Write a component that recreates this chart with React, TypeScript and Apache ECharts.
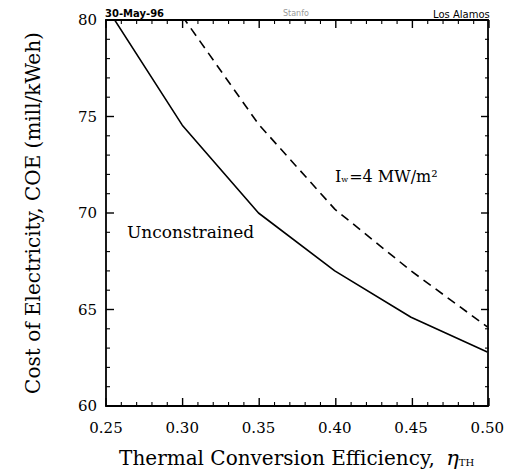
import React, { useEffect, useRef } from "react";
import * as echarts from "echarts";

const efficiency = [0.25, 0.3, 0.35, 0.4, 0.45, 0.5];
const unconstrained = [80.7, 74.55, 70.0, 67.0, 64.6, 62.8];
const wallLoad = [null, 80.2, 74.6, 70.2, 67.0, 64.1];
const xTicks = ["0.25", "0.30", "0.35", "0.40", "0.45", "0.50"];
const yTicks = [60, 65, 70, 75, 80];
const xMajorTicks = [0.25, 0.3, 0.35, 0.4, 0.45, 0.5];
const xMinorTicks = [
  0.26, 0.27, 0.28, 0.29, 0.31, 0.32, 0.33, 0.34, 0.36, 0.37, 0.38, 0.39,
  0.41, 0.42, 0.43, 0.44, 0.46, 0.47, 0.48, 0.49,
];
const yMajorTicks = [60, 65, 70, 75, 80];
const yMinorTicks = [61, 62, 63, 64, 66, 67, 68, 69, 71, 72, 73, 74, 76, 77, 78, 79];

const X_MIN = 0.25;
const X_MAX = 0.5;
const Y_MIN = 60;
const Y_MAX = 80;

const GRID_LEFT = 106;
const GRID_TOP = 20;
const GRID_W = 383;
const GRID_H = 386;

const SERIF = "'DejaVu Serif', 'Liberation Serif', serif";
const MAJOR_LEN = 8;
const MINOR_LEN = 4;

const frameLine = { show: true, onZero: false, lineStyle: { color: "#000", width: 1.8 } };

const xPix = (v: number) => GRID_LEFT + ((v - X_MIN) / (X_MAX - X_MIN)) * GRID_W;
const yPix = (v: number) => GRID_TOP + GRID_H - ((v - Y_MIN) / (Y_MAX - Y_MIN)) * GRID_H;

function tickRect(x: number, y: number, width: number, height: number) {
  return {
    type: "rect",
    z: 100,
    silent: true,
    shape: { x, y, width, height },
    style: { fill: "#000" },
  };
}

function buildTicks() {
  const out: any[] = [];
  const addX = (v: number, major: boolean) => {
    const len = major ? MAJOR_LEN : MINOR_LEN;
    const w = major ? 1.4 : 1.1;
    const px = xPix(v) - w / 2;
    out.push(tickRect(px, GRID_TOP + GRID_H - len, w, len));
    out.push(tickRect(px, GRID_TOP, w, len));
  };
  const addY = (v: number, major: boolean) => {
    const len = major ? MAJOR_LEN : MINOR_LEN;
    const w = major ? 1.4 : 1.1;
    const py = yPix(v) - w / 2;
    out.push(tickRect(GRID_LEFT, py, len, w));
    out.push(tickRect(GRID_LEFT + GRID_W - len, py, len, w));
  };
  xMajorTicks.forEach((v) => addX(v, true));
  xMinorTicks.forEach((v) => addX(v, false));
  yMajorTicks.forEach((v) => addY(v, true));
  yMinorTicks.forEach((v) => addY(v, false));
  return out;
}

const textGraphics = [
  {
    type: "text",
    left: 127,
    top: 223,
    style: { text: "Unconstrained", fill: "#000", font: `17px ${SERIF}` },
  },
  {
    type: "text",
    left: 335,
    top: 168,
    style: {
      text: "{a|I}{s|w}{a|=4 MW/m²}",
      fill: "#000",
      rich: {
        a: { fontFamily: SERIF, fontSize: 16, fill: "#000" },
        s: { fontFamily: SERIF, fontSize: 8, fill: "#000", padding: [7, 1, 0, 0] },
      },
    },
  },
  {
    type: "text",
    left: 105,
    top: 8,
    style: { text: "30-May-96", fill: "#000", font: "bold 10px 'DejaVu Sans', sans-serif" },
  },
  {
    type: "text",
    left: 283,
    top: 9,
    style: { text: "Stanfo", fill: "#999", font: "8px 'DejaVu Sans', sans-serif" },
  },
  {
    type: "text",
    left: 433,
    top: 9,
    style: { text: "Los Alamos", fill: "#000", font: "10px 'DejaVu Sans', sans-serif" },
  },
];

export default function App() {
  const ref = useRef<HTMLDivElement>(null);
  useEffect(() => {
    document.body.style.margin = "0";
    const chart = echarts.init(ref.current!, null, { renderer: "svg" });

    chart.setOption({
      animation: false,
      backgroundColor: "#fff",
      grid: { left: GRID_LEFT, top: GRID_TOP, width: GRID_W, height: GRID_H, containLabel: false },
      xAxis: [
        {
          type: "value",
          min: X_MIN,
          max: X_MAX,
          interval: 0.05,
          position: "bottom",
          axisLine: frameLine,
          axisTick: { show: false },
          splitLine: { show: false },
          axisLabel: {
            margin: 14,
            color: "#000",
            fontFamily: SERIF,
            fontSize: 15,
            formatter: (v: number) => {
              const s = v.toFixed(2);
              return xTicks.includes(s) ? s : "";
            },
          },
          name: "Thermal Conversion Efficiency, {eta|η}{sub|TH}",
          nameLocation: "middle",
          nameGap: 41,
          nameTextStyle: {
            color: "#000",
            fontFamily: SERIF,
            fontSize: 20,
            rich: {
              eta: { fontFamily: SERIF, fontSize: 21, fontStyle: "italic", color: "#000", padding: [0, 0, 0, 5] },
              sub: { fontFamily: SERIF, fontSize: 10, color: "#000", padding: [9, 0, 0, 0] },
            },
          },
        },
        {
          type: "value",
          min: X_MIN,
          max: X_MAX,
          interval: 0.05,
          position: "top",
          axisLine: frameLine,
          axisTick: { show: false },
          axisLabel: { show: false },
          splitLine: { show: false },
        },
      ],
      yAxis: [
        {
          type: "value",
          min: Y_MIN,
          max: Y_MAX,
          interval: 5,
          position: "left",
          axisLine: frameLine,
          axisTick: { show: false },
          splitLine: { show: false },
          axisLabel: {
            margin: 9,
            color: "#000",
            fontFamily: SERIF,
            fontSize: 15,
            formatter: (v: number) => (yTicks.includes(v) ? String(v) : ""),
          },
          name: "Cost of Electricity, COE (mill/kWeh)",
          nameLocation: "middle",
          nameRotate: 90,
          nameGap: 63,
          nameTextStyle: { color: "#000", fontFamily: SERIF, fontSize: 20 },
        },
        {
          type: "value",
          min: Y_MIN,
          max: Y_MAX,
          interval: 5,
          position: "right",
          axisLine: frameLine,
          axisTick: { show: false },
          axisLabel: { show: false },
          splitLine: { show: false },
        },
      ],
      series: [
        {
          type: "line",
          name: "Unconstrained",
          xAxisIndex: 0,
          yAxisIndex: 0,
          data: efficiency.map((x, i) => [x, unconstrained[i]]),
          showSymbol: false,
          clip: true,
          lineStyle: { color: "#000", width: 1.6, type: "solid" },
        },
        {
          type: "line",
          name: "Iw=4 MW/m2",
          xAxisIndex: 0,
          yAxisIndex: 0,
          data: efficiency
            .map((x, i) => [x, wallLoad[i]])
            .filter((d) => d[1] !== null),
          showSymbol: false,
          clip: true,
          lineStyle: { color: "#000", width: 1.6, type: [9, 6] },
        },
      ],
      graphic: [...textGraphics, ...buildTicks()],
    });

    return () => chart.dispose();
  }, []);
  return <div ref={ref} style={{ width: 507, height: 475 }} />;
}
